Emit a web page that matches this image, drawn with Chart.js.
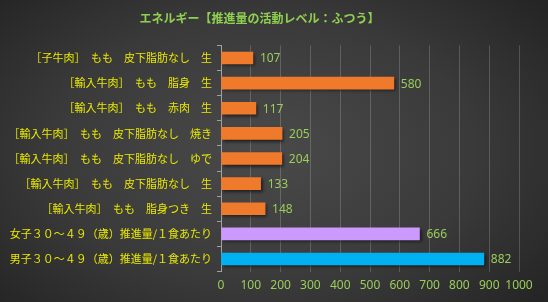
<!DOCTYPE html>
<html>
<head>
<meta charset="utf-8">
<script src="https://cdn.jsdelivr.net/npm/chart.js@4"></script>
<style>
    html, body { margin: 0; padding: 0; }
    #wrap {
        width: 548px; height: 302px; position: relative;
        background: radial-gradient(ellipse 70% 80% at 48% 50%, #4a4a4a 0%, #3a3a3a 55%, #222 100%);
    }
</style>
</head>
<body>
<div id="wrap"><canvas id="chart" width="548" height="302"></canvas></div>
<script>
var title = 'エネルギー【推進量の活動レベル：ふつう】';

var categories = [
    '［子牛肉］　もも　皮下脂肪なし　生',
    '［輸入牛肉］　もも　脂身　生',
    '［輸入牛肉］　もも　赤肉　生',
    '［輸入牛肉］　もも　皮下脂肪なし　焼き',
    '［輸入牛肉］　もも　皮下脂肪なし　ゆで',
    '［輸入牛肉］　もも　皮下脂肪なし　生',
    '［輸入牛肉］　もも　脂身つき　生',
    '女子３０～４９（歳）推進量/１食あたり',
    '男子３０～４９（歳）推進量/１食あたり'
];

var energy = [107, 580, 117, 205, 204, 133, 148, 666, 882];

var barColors = ['#f07a2c', '#f07a2c', '#f07a2c', '#f07a2c', '#f07a2c', '#f07a2c', '#f07a2c', '#cc99ff', '#00b0f0'];

var xTicks = [0, 100, 200, 300, 400, 500, 600, 700, 800, 900, 1000];

var green = '#9acd5a';
var jpFont = '"Noto Sans CJK JP", sans-serif';

// value labels at bar ends
var valueLabels = {
    id: 'valueLabels',
    afterDatasetsDraw: function (chart) {
        var ctx = chart.ctx;
        var meta = chart.getDatasetMeta(0);
        ctx.save();
        ctx.fillStyle = green;
        ctx.font = '12px "Noto Sans", sans-serif';
        ctx.textBaseline = 'middle';
        ctx.textAlign = 'left';
        meta.data.forEach(function (bar, i) {
            ctx.fillText(energy[i], bar.x + 7, bar.y + 1);
        });
        ctx.restore();
    }
};

// drop shadow under bars
var barShadow = {
    id: 'barShadow',
    beforeDatasetsDraw: function (chart) {
        var ctx = chart.ctx;
        ctx.save();
        ctx.shadowColor = 'rgba(0,0,0,0.55)';
        ctx.shadowBlur = 3;
        ctx.shadowOffsetX = 2;
        ctx.shadowOffsetY = 2;
    },
    afterDatasetsDraw: function (chart) {
        chart.ctx.restore();
    }
};

new Chart(document.getElementById('chart').getContext('2d'), {
    type: 'bar',
    data: {
        labels: categories,
        datasets: [{
            data: energy,
            backgroundColor: barColors,
            borderWidth: 0,
            barThickness: 12
        }]
    },
    options: {
        indexAxis: 'y',
        responsive: false,
        animation: false,
        layout: { padding: { left: 0, right: 29, top: 0, bottom: 0 } },
        plugins: {
            legend: { display: false },
            tooltip: { enabled: false },
            title: {
                display: true,
                text: title,
                color: '#8fd14f',
                font: { family: jpFont, size: 12, weight: 'bold' },
                padding: { top: 11, bottom: 20 }
            }
        },
        scales: {
            x: {
                min: 0,
                max: 1000,
                afterBuildTicks: function (scale) {
                    scale.ticks = xTicks.map(function (v) { return { value: v }; });
                },
                afterFit: function (scale) { scale.height = 30.4; },
                grid: { color: 'rgba(255,255,255,0.18)', drawTicks: false },
                border: { display: false },
                ticks: {
                    color: green,
                    padding: 7,
                    maxRotation: 0,
                    minRotation: 0,
                    autoSkip: false,
                    callback: function (v) { return String(v); },
                    font: { family: '"Noto Sans", sans-serif', size: 12 }
                }
            },
            y: {
                afterFit: function (scale) { scale.width = 221; },
                grid: {
                    offset: true,
                    drawOnChartArea: false,
                    drawTicks: true,
                    tickLength: 4,
                    color: '#a0a0a0'
                },
                border: { display: true, color: '#a0a0a0' },
                ticks: {
                    color: '#e8e800',
                    padding: 5,
                    font: { family: jpFont, size: 11 }
                }
            }
        }
    },
    plugins: [barShadow, valueLabels]
});
</script>
</body>
</html>
